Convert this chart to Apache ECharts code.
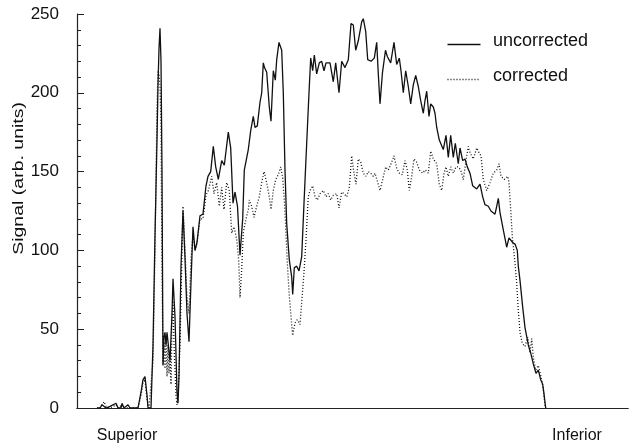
<!DOCTYPE html>
<html>
<head>
<meta charset="utf-8">
<script src="https://cdn.jsdelivr.net/npm/echarts@6/dist/echarts.min.js"></script>
<style>
html,body{margin:0;padding:0;background:#fff;}
#chart{width:630px;height:448px;}
</style>
</head>
<body>
<div id="chart"></div>
<script>
// Position along the superior-inferior axis (arbitrary units, 0..551)
const uncorrectedPos = [20,23,25,27,29,33,35,39,41,44,45,47,51,53,56,61,64,66,68,70,71,74,76,78,80,81,82,83,84,85,86,87,88,89,90,91,93,95,96,97,98,100,101,102,104,106,107,108,110,112,114,116,118,120,123,126,129,131,133.7,136.3,138.7,141.3,144.7,147.3,151.3,153.7,156,158,160.5,163,165.7,167.3,169,171.3,173.7,176.3,178,180.3,183,184.7,186.3,187.5,189.7,192.3,194,196.3,198.3,199.7,202,204.7,206.3,208,209.7,212.3,214.7,215.7,217.3,219.7,222,224.7,227,229.7,232,233.7,235.7,237.3,239.7,242.3,244.7,247,249,253,256.3,258.7,262,264.7,268,271.3,274,276.3,278.7,281.3,284.7,286.3,288.7,290.7,294,297.3,299.7,301.3,303,305.5,308.5,310.3,313.7,317,319.7,322.3,324,326.3,328.7,331.3,333.7,336.3,338.7,341.3,343.7,346.3,348,349.7,352,353.7,356.3,358,359.7,362.3,365,366.3,369,371.3,373.7,376.3,378.3,381.3,383,385.7,388,390.3,393,395.7,399.7,403,405.7,408,411.3,414,418,419.7,421.3,423,426.3,429.7,432,435.7,438,440.3,441.3,443,445.7,448,451.3,453.7,456.3,459,461.3,463.7,465.7,467,468.7];
const uncorrectedVal = [0,0,2,3,0,1,0,3,0,0,3,0,2,0,0,0,10,18,20,8,0,0,40,110,170,205,228,241,220,150,27,45,48,40,48,42,30,60,82,70,58,10,3,20,90,125,110,95,60,42,80,115,100,105,122,123,141,147,150,166,153,145,157,154,175,165,130,137,128,97,120,151,151,164,176,185,178,179,194,200,219,216,213,191,182,214,208,221,232,227,200,151,117,94,83,72,89,90,87,96,130,168,200,222,214,224,212,219,220,214,219,219,207,219,200,220,216,221,244,243,227,233,245,247,239,221,220,222,232,212,193,213,227,223,219,232,218,222,214,200,214,204,193,205,211,204,195,187,195,201,185,193,191,187,178,170,166,164,173,159,173,159,168,155,165,157,158,153,149,141,139,142,134,129,128,125,123,128,133,124,113,102,108,105,104,100,90,81,64,51,40,35,28,22,24,18,15,9,0];

const correctedPos = [20,23,25,27,29,31,33,39,41,45,47,53,61,64,66,68,70,72,74,76,78,80,81,82,83,84,85,86,87,88,89,90,91,92,93,94,95,96,97,98,99,100,101,103,105,106,107,108,110,112,114,116,118,120,123,126,129,131.3,134.7,137,139.7,142.3,144.7,147,149.7,152.3,154.7,157,159.7,161.7,163,164.7,166.3,168.3,171.3,172.3,174.7,177,179.7,182.3,184.7,187,189.7,192.3,194,196.3,198.7,201.3,203.7,205.7,207.3,208.7,210.3,212.3,214.7,215.7,218,220.3,223,224.7,227,229,231.3,233,235.7,238,240.3,243,246.3,249,251.3,253.7,256.3,259.7,262,264.7,267,269.7,272.3,274.7,276.3,279,281.3,283.7,286.3,289,291.3,293.7,296.3,298,300.3,303,305.7,308.7,311.3,314.7,317,319.7,322.3,325.3,328,330.3,332.3,334.7,337,339.7,342.3,345.7,348.3,351.3,353.7,356.3,359.7,362.3,364.7,367,369,371.3,373.7,376.3,379,381.3,383.7,386.3,389,391.3,393,396.3,399.7,402,404,406.3,409.7,413,416.3,419.7,422,424,427.3,430.7,432,433.7,435.3,438,439.7,441.3,443,445.3,448,450.7,453,454.7,456.3,458.7,461.3,464,466.3,468,468.7];
const correctedVal = [0,0,2,4,1,2,0,2,0,2,0,0,0,8,16,18,6,0,0,30,100,190,214,212,205,180,90,28,42,25,46,20,40,22,36,15,55,68,40,25,8,2,8,40,100,128,115,100,70,60,95,110,100,105,120,120,135,138,147,136,143,128,140,126,143,138,111,115,107,94,70,88,111,118,126,132,128,121,128,134,143,150,143,134,126,138,145,148,153,146,132,115,92,71,53,46,54,56,53,67,86,107,134,138,141,134,132,136,138,134,136,132,135,136,127,137,136,134,140,160,152,142,158,156,149,147,150,149,147,149,144,138,145,153,151,156,160,152,149,148,157,151,138,147,158,156,151,149,151,149,163,158,155,142,138,149,153,147,153,149,153,153,151,145,157,166,162,158,165,162,160,145,138,143,149,151,155,147,145,147,143,126,109,92,79,62,48,41,39,45,35,44,32,24,27,20,12,1,0];

const seriesNames = ['uncorrected', 'corrected'];
const yTicks = [0, 50, 100, 150, 200, 250];
const xLabelPos = [50, 500];
const xLabelText = ['Superior', 'Inferior'];
const yAxisTitle = 'Signal (arb. units)';

const FONT = '"Liberation Sans", Arial, Helvetica, sans-serif';
const DOT = [1, 2];
const chart = echarts.init(document.getElementById('chart'), null, {renderer: 'canvas'});

const zip = (xs, ys) => xs.map((x, i) => [x, ys[i]]);

// legend drawn as graphic: sample line + label for each series
const legendGraphics = [];
seriesNames.forEach((name, i) => {
  const cy = 42 + i * 35;
  legendGraphics.push({
    type: 'line', left: 445, top: cy,
    shape: {x1: 0, y1: 0, x2: 33, y2: 0},
    style: {stroke: '#111', lineWidth: 1.3, lineDash: i === 1 ? DOT : null}
  });
  legendGraphics.push({
    type: 'text', left: 493, top: cy - 10,
    style: {text: name, font: '18px ' + FONT, fill: '#111'}
  });
});

chart.setOption({
  animation: false,
  backgroundColor: '#fff',
  grid: {left: 77, right: 2, top: 14, bottom: 40, containLabel: false},
  graphic: [{
    type: 'text',
    left: 11, top: 102,
    rotation: Math.PI / 2,
    scaleY: 0.75,
    style: {text: yAxisTitle, font: '19.5px ' + FONT, fill: '#111'}
  }].concat(legendGraphics),
  xAxis: [{
    type: 'value', min: 0, max: 551, interval: 50,
    position: 'bottom',
    axisLine: {show: true, onZero: false, lineStyle: {color: '#222', width: 1.2}},
    axisTick: {show: false},
    splitLine: {show: false},
    axisLabel: {
      show: true, margin: 20, fontFamily: FONT, fontSize: 16, color: '#111',
      showMinLabel: true, showMaxLabel: false,
      formatter: v => { const i = xLabelPos.indexOf(v); return i >= 0 ? xLabelText[i] : ''; }
    }
  }, {
    type: 'value', min: 0, max: 551,
    position: 'top',
    axisLine: {show: true, lineStyle: {color: '#222', width: 1.2}},
    axisTick: {show: false}, axisLabel: {show: false}, splitLine: {show: false}
  }],
  yAxis: {
    type: 'value', min: yTicks[0], max: yTicks[yTicks.length - 1], interval: 50,
    axisLine: {show: true, lineStyle: {color: '#222', width: 1.2}},
    axisTick: {show: true, inside: true, length: 7, lineStyle: {color: '#222'}},
    minorTick: {show: true, splitNumber: 5, length: 4, lineStyle: {color: '#222'}},
    splitLine: {show: false},
    minorSplitLine: {show: false},
    axisLabel: {margin: 18, fontFamily: FONT, fontSize: 17, color: '#111'}
  },
  series: [{
    name: seriesNames[0], type: 'line', xAxisIndex: 0,
    data: zip(uncorrectedPos, uncorrectedVal),
    showSymbol: false, symbol: 'none',
    lineStyle: {color: '#111', width: 1.3, type: 'solid'},
    itemStyle: {color: '#111'}
  }, {
    name: seriesNames[1], type: 'line', xAxisIndex: 0,
    data: zip(correctedPos, correctedVal),
    showSymbol: false, symbol: 'none',
    lineStyle: {color: '#111', width: 1.3, type: DOT},
    itemStyle: {color: '#111'}
  }]
});
</script>
</body>
</html>
